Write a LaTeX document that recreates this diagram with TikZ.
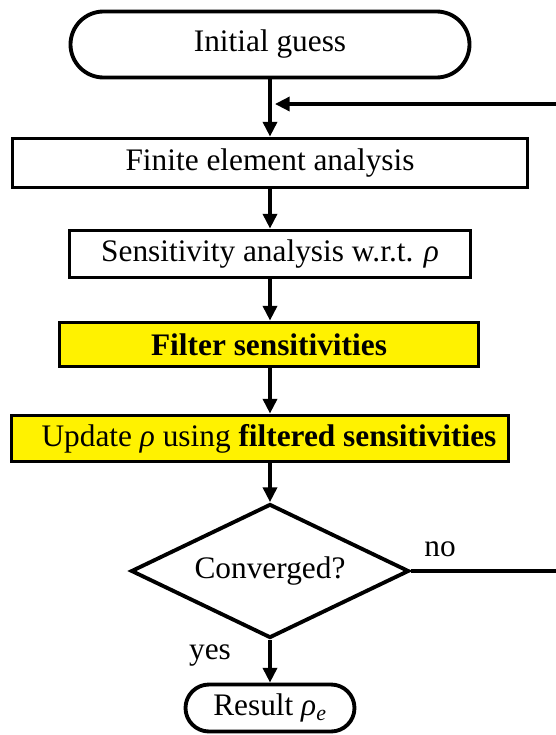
\documentclass[tikz,border=0pt]{standalone}
\usepackage{fontspec}
\setmainfont{Liberation Serif}
\usetikzlibrary{arrows.meta,shapes.geometric,shapes.misc}
\begin{document}
\begin{tikzpicture}[x=0.75pt,y=-0.75pt,
  every node/.style={font=\fontsize{23.5}{28}\selectfont, inner sep=0pt},
  flowline/.style={line width=2.5pt},
  arr/.style={flowline,-{Triangle[length=11pt,width=10.5pt]}},
  boxline/.style={draw, line width=2.9pt},
  term/.style={boxline, rounded rectangle, fill=white},
  proc/.style={boxline, rectangle, fill=white},
  hl/.style={boxline, rectangle, fill=yellow},
  decision/.style={boxline, diamond, aspect=2.07, fill=white}]
\useasboundingbox (0,0) rectangle (556,735);
\clip (0,0) rectangle (556,735);

% flow chart blocks
\node[term, minimum width=299.25pt, minimum height=49.5pt] (init) at (270,44.5) {Initial guess};
\node[proc, minimum width=386.25pt, minimum height=36.75pt] (fea) at (270,163) {Finite element analysis};
\node[proc, minimum width=300.75pt, minimum height=35.25pt] (sens) at (270,254) {Sensitivity analysis w.r.t. \textit{ρ}};
\node[hl, minimum width=314.25pt, minimum height=33pt] (filt) at (269,344.5) {\textbf{Filter sensitivities}};
\node[hl, minimum width=372.75pt, minimum height=34.5pt] (upd) at (260,438.5)
  {\hspace*{13.5pt}Update \textit{ρ} using \textbf{filtered sensitivities}};
\node[decision, minimum width=208.5pt, minimum height=100.5pt] (dec) at (270,571) {Converged?};
\node[term, minimum width=126.75pt, minimum height=35.25pt] (res) at (270,708) {Result \textit{ρ}\textsubscript{\textit{e}}};

% branch labels
\node (no) at (440,549) {no};
\node (yes) at (210,655) {yes};

% main flow
\draw[arr] (init.south) -- (init.south |- fea.north);
\draw[arr] (fea.south) -- (fea.south |- sens.north);
\draw[arr] (sens.south) -- (sens.south |- filt.north);
\draw[arr] (sens.south |- filt.south) -- (sens.south |- upd.north);
\draw[arr] (dec.north |- upd.south) -- (dec.north);
\draw[arr] (dec.south) -- (res.north);

% iteration loop back above the analysis step
\coordinate (fb) at (275,104);
\draw[arr] (dec.east) -- (570,571) -- (570,104) -- (fb);
\end{tikzpicture}
\end{document}
